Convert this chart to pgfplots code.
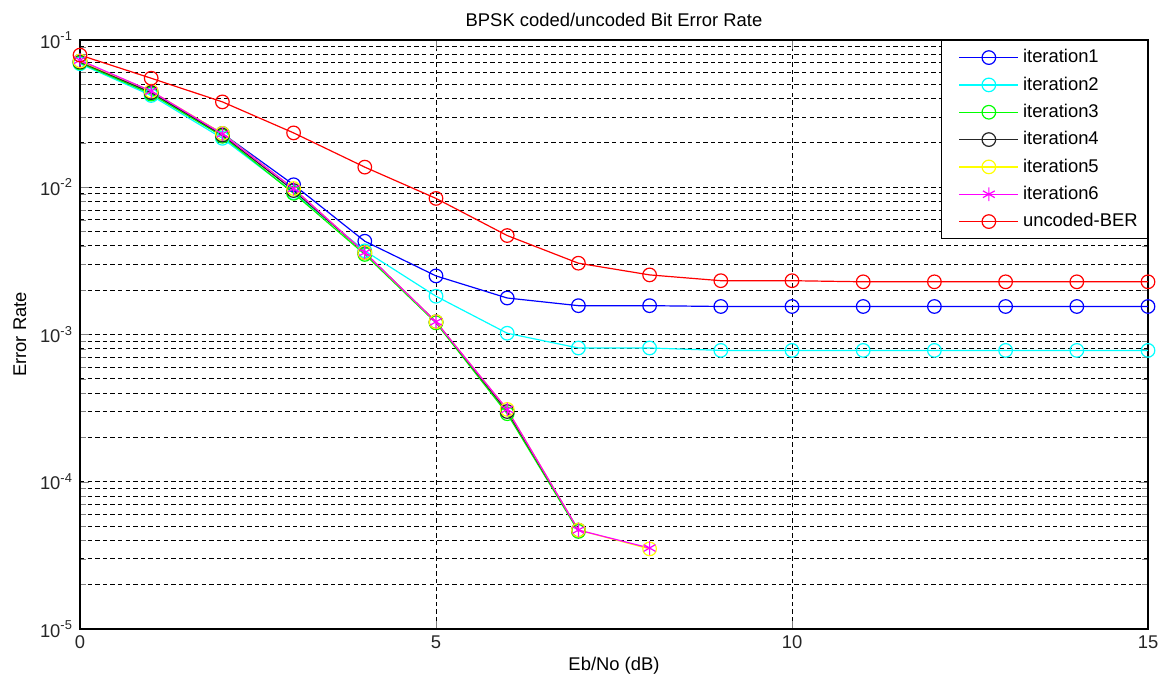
\documentclass[border=0pt]{standalone}
\usepackage{pgfplots}
\pgfplotsset{compat=1.18}
\usepackage{fontspec}
\setmainfont{Liberation Sans}
\definecolor{mblue}{rgb}{0,0,1}
\definecolor{mcyan}{rgb}{0,1,1}
\definecolor{mgreen}{rgb}{0,1,0}
\definecolor{mblack}{rgb}{0.15,0.15,0.15}
\definecolor{myellow}{rgb}{1,1,0}
\definecolor{mmagenta}{rgb}{1,0,1}
\definecolor{mred}{rgb}{1,0,0}
\begin{document}
\begin{tikzpicture}
\begin{axis}[
  scale only axis, width=534pt, height=294.5pt,
  ymode=log, xmin=0, xmax=15, ymin=1e-5, ymax=1e-1,
  xtick={0,5,10,15}, xticklabels={0,5,10,15},
  ytick={1e-5,1e-4,1e-3,1e-2,1e-1},
  yticklabels={10\textsuperscript{-5},10\textsuperscript{-4},10\textsuperscript{-3},10\textsuperscript{-2},10\textsuperscript{-1}},
  tick align=inside, minor x tick num=0,
  xmajorgrids, ymajorgrids, yminorgrids,
  major grid style={black, line width=0.5pt, dash pattern=on 2.2pt off 1.6pt},
  minor grid style={black, line width=0.5pt, dash pattern=on 2.2pt off 1.6pt},
  axis line style={black, line width=0.7pt},
  font=\fontsize{9.2}{11}\selectfont,
  ticklabel style={font=\fontsize{9.2}{11}\selectfont, text=black!85},
  title={BPSK coded/uncoded Bit Error Rate},
  title style={yshift=-3pt},
  xlabel={Eb/No (dB)}, ylabel={Error Rate},
  xlabel style={yshift=3pt}, ylabel style={yshift=0pt},
  legend style={at={(1,1)}, anchor=north east, font=\fontsize{9.2}{11}\selectfont, inner xsep=3pt, inner ysep=2.5pt, row sep=1.5pt,
    legend cell align=left},
  legend image code/.code={\path (-0.2cm,0cm); \draw[mark repeat=2,mark phase=2] plot coordinates {(0cm,0cm) (0.52cm,0cm) (1.04cm,0cm)};},
  every axis plot/.append style={line width=0.6pt, mark size=3.4pt, mark options={solid, line width=0.6pt}},
]
\addplot[color=mblue, mark=o] coordinates {(0,0.072) (1,0.044) (2,0.0232) (3,0.0104) (4,0.0043) (5,0.0025) (6,0.00177) (7,0.00157) (8,0.00157) (9,0.00155) (10,0.00155) (11,0.00155) (12,0.00155) (13,0.00155) (14,0.00155) (15,0.00155)};
\addlegendentry{iteration1}
\addplot[color=mcyan, mark=o] coordinates {(0,0.069) (1,0.042) (2,0.0215) (3,0.0092) (4,0.0037) (5,0.00182) (6,0.00102) (7,0.00081) (8,0.00081) (9,0.00078) (10,0.00078) (11,0.00078) (12,0.00078) (13,0.00078) (14,0.00078) (15,0.00078)};
\addlegendentry{iteration2}
\addplot[color=mgreen, mark=o] coordinates {(0,0.070) (1,0.043) (2,0.0222) (3,0.0091) (4,0.0035) (5,0.00120) (6,0.00029) (7,4.6e-5)};
\addlegendentry{iteration3}
\addplot[color=mblack, mark=o] coordinates {(0,0.071) (1,0.044) (2,0.0226) (3,0.0095) (4,0.0036) (5,0.00122) (6,0.00030) (7,4.7e-5)};
\addlegendentry{iteration4}
\addplot[color=myellow, mark=o] coordinates {(0,0.072) (1,0.045) (2,0.0232) (3,0.0098) (4,0.0036) (5,0.00122) (6,0.00031) (7,4.7e-5) (8,3.5e-5)};
\addlegendentry{iteration5}
\addplot[color=mmagenta, mark=asterisk] coordinates {(0,0.073) (1,0.045) (2,0.023) (3,0.0098) (4,0.0036) (5,0.00122) (6,0.00031) (7,4.7e-5) (8,3.55e-5)};
\addlegendentry{iteration6}
\addplot[color=mred, mark=o] coordinates {(0,0.079) (1,0.055) (2,0.038) (3,0.0234) (4,0.0137) (5,0.0084) (6,0.0047) (7,0.00305) (8,0.00254) (9,0.00232) (10,0.00232) (11,0.00228) (12,0.00228) (13,0.00228) (14,0.00228) (15,0.00228)};
\addlegendentry{uncoded-BER}
\end{axis}
\pgfresetboundingbox
\path ([shift={(-40pt,-26.5pt)}]current axis.south west) rectangle ([shift={(9.5pt,20pt)}]current axis.north east);
\end{tikzpicture}
\end{document}
